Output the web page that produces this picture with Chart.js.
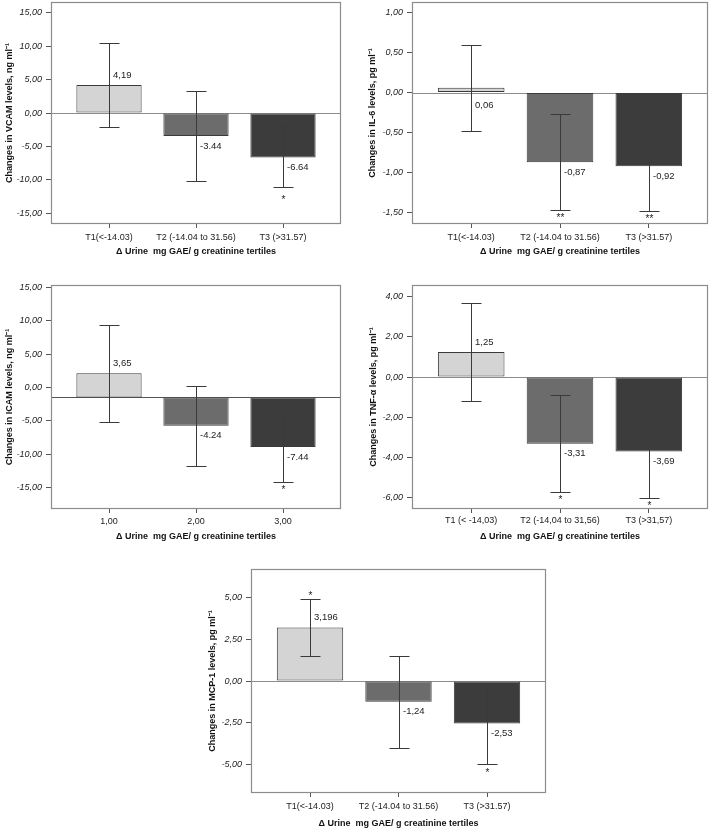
<!DOCTYPE html>
<html>
<head>
<meta charset="utf-8">
<script src="https://cdn.jsdelivr.net/npm/chart.js@4.4.0/dist/chart.umd.min.js"></script>
<style>
  body { margin: 0; background: #fff; }
  #page { position: relative; width: 709px; height: 830px; overflow: hidden; }
  .panel { position: absolute; }
  .panel canvas { display: block; }
</style>
</head>
<body>
<div id="page">
  <div class="panel" id="vcam"><canvas></canvas></div>
  <div class="panel" id="il6"><canvas></canvas></div>
  <div class="panel" id="icam"><canvas></canvas></div>
  <div class="panel" id="tnf"><canvas></canvas></div>
  <div class="panel" id="mcp"><canvas></canvas></div>
</div>
<script>
// ---- data ----
const tertileLabels = ["T1(<-14.03)", "T2 (-14.04 to 31.56)", "T3 (>31.57)"];
const tertileLabelsComma = ["T1 (< -14,03)", "T2 (-14,04 to 31,56)", "T3 (>31,57)"];
const numberLabels = ["1,00", "2,00", "3,00"];
const xTitle = "\u0394 Urine  mg GAE/ g creatinine tertiles";
const barColors = ["#d4d4d4", "#6c6c6c", "#3c3c3c"];

const vcamValues = [4.19, -3.44, -6.64];
const vcamErrLow = [-2.09, -10.15, -11.1];
const vcamErrHigh = [10.5, 3.28, -2.14];
const vcamText = ["4,19", "-3.44", "-6.64"];
const vcamStarsAbove = ["", "", ""];
const vcamStarsBelow = ["", "", "*"];
const vcamTicks = [-15, -10, -5, 0, 5, 10, 15];
const vcamRange = [-16.6, 16.6];

const il6Values = [0.06, -0.87, -0.92];
const il6ErrLow = [-0.475, -1.47, -1.48];
const il6ErrHigh = [0.59, -0.27, -0.37];
const il6Text = ["0,06", "-0,87", "-0,92"];
const il6StarsAbove = ["", "", ""];
const il6StarsBelow = ["", "**", "**"];
const il6Ticks = [-1.5, -1, -0.5, 0, 0.5, 1];
const il6Range = [-1.64, 1.13];

const icamBase = -1.5;
const icamValues = [3.65, -4.24, -7.44];
const icamErrLow = [-5.16, -11.75, -14.25];
const icamErrHigh = [9.45, 0.2, -3.75];
const icamText = ["3,65", "-4.24", "-7.44"];
const icamStarsAbove = ["", "", ""];
const icamStarsBelow = ["", "", "*"];
const icamTicks = [-15, -10, -5, 0, 5, 10, 15];
const icamRange = [-18.25, 15.4];

const tnfValues = [1.25, -3.31, -3.69];
const tnfErrLow = [-1.17, -5.71, -5.99];
const tnfErrHigh = [3.67, -0.87, -1.39];
const tnfText = ["1,25", "-3,31", "-3,69"];
const tnfStarsAbove = ["", "", ""];
const tnfStarsBelow = ["", "*", "*"];
const tnfTicks = [-6, -4, -2, 0, 2, 4];
const tnfRange = [-6.55, 4.57];

const mcpValues = [3.196, -1.24, -2.53];
const mcpErrLow = [1.47, -4.0, -4.96];
const mcpErrHigh = [4.9, 1.5, -0.14];
const mcpText = ["3,196", "-1,24", "-2,53"];
const mcpStarsAbove = ["*", "", ""];
const mcpStarsBelow = ["", "", "*"];
const mcpTicks = [-5, -2.5, 0, 2.5, 5];
const mcpRange = [-6.68, 6.68];

// ---- layout (page pixels) ----
const fontFamily = "'Liberation Sans', Arial, Helvetica, sans-serif";

const panels = [
  {
    id: "vcam", box: { l: 0, t: 0, w: 355, h: 262 }, area: { l: 51, t: 2, r: 341, b: 224 },
    yTitleX: 10, xTickY: 238, xTitleY: 252, starGap: 10, baseColor: "#8c8c8c",
    yTitle: "Changes in VCAM levels, ng ml\u207B\u00B9", categories: tertileLabels, base: 0,
    values: vcamValues, errLow: vcamErrLow, errHigh: vcamErrHigh, text: vcamText,
    starsAbove: vcamStarsAbove, starsBelow: vcamStarsBelow, yTicks: vcamTicks, range: vcamRange
  },
  {
    id: "il6", box: { l: 355, t: 0, w: 354, h: 262 }, area: { l: 412, t: 2, r: 708, b: 224 },
    yTitleX: 373, xTickY: 238, xTitleY: 252, starGap: 5, baseColor: "#8c8c8c",
    yTitle: "Changes in IL-6 levels, pg ml\u207B\u00B9", categories: tertileLabels, base: 0,
    labelSide: [-1, -1, -1],
    values: il6Values, errLow: il6ErrLow, errHigh: il6ErrHigh, text: il6Text,
    starsAbove: il6StarsAbove, starsBelow: il6StarsBelow, yTicks: il6Ticks, range: il6Range
  },
  {
    id: "icam", box: { l: 0, t: 270, w: 355, h: 275 }, area: { l: 51, t: 285, r: 341, b: 509 },
    yTitleX: 9.5, xTickY: 521.5, xTitleY: 537, starGap: 5, baseColor: "#555",
    yTitle: "Changes in ICAM levels, ng ml\u207B\u00B9", categories: numberLabels, base: icamBase,
    values: icamValues, errLow: icamErrLow, errHigh: icamErrHigh, text: icamText,
    starsAbove: icamStarsAbove, starsBelow: icamStarsBelow, yTicks: icamTicks, range: icamRange
  },
  {
    id: "tnf", box: { l: 355, t: 270, w: 354, h: 275 }, area: { l: 412, t: 285, r: 708, b: 509 },
    yTitleX: 373.5, xTickY: 521, xTitleY: 537, starGap: 5, baseColor: "#8c8c8c",
    yTitle: "Changes in TNF-\u03B1 levels, pg ml\u207B\u00B9", categories: tertileLabelsComma, base: 0,
    values: tnfValues, errLow: tnfErrLow, errHigh: tnfErrHigh, text: tnfText,
    starsAbove: tnfStarsAbove, starsBelow: tnfStarsBelow, yTicks: tnfTicks, range: tnfRange
  },
  {
    id: "mcp", box: { l: 195, t: 555, w: 360, h: 275 }, area: { l: 251, t: 569, r: 546, b: 793 },
    yTitleX: 212.5, xTickY: 806.5, xTitleY: 824, starGap: 6, baseColor: "#8c8c8c",
    yTitle: "Changes in MCP-1 levels, pg ml\u207B\u00B9", categories: tertileLabels, base: 0,
    values: mcpValues, errLow: mcpErrLow, errHigh: mcpErrHigh, text: mcpText,
    starsAbove: mcpStarsAbove, starsBelow: mcpStarsBelow, yTicks: mcpTicks, range: mcpRange
  }
];

function tickText(v) {
  return v.toFixed(2).replace(".", ",");
}

// draws the frame, the base line, error bars, value labels and asterisks
function marksPlugin(p) {
  return {
    id: "marks" + p.id,
    beforeDatasetsDraw(chart) {
      const { ctx, chartArea: a, scales: { y } } = chart;
      const yb = Math.round(y.getPixelForValue(p.base)) + 0.5;
      ctx.save();
      ctx.strokeStyle = p.baseColor;
      ctx.lineWidth = 1;
      ctx.beginPath();
      ctx.moveTo(a.left, yb);
      ctx.lineTo(a.right, yb);
      ctx.stroke();
      ctx.restore();
    },
    afterDatasetsDraw(chart) {
      const { ctx, scales: { x, y } } = chart;
      ctx.save();
      ctx.strokeStyle = "#3a3a3a";
      ctx.lineWidth = 1;
      p.values.forEach((v, i) => {
        const xp = Math.round(x.getPixelForValue(i + 1)) + 0.5;
        const yl = Math.round(y.getPixelForValue(p.errLow[i])) + 0.5;
        const yh = Math.round(y.getPixelForValue(p.errHigh[i])) + 0.5;
        ctx.beginPath();
        ctx.moveTo(xp, yl); ctx.lineTo(xp, yh);
        ctx.moveTo(xp - 10, yl); ctx.lineTo(xp + 10, yl);
        ctx.moveTo(xp - 10, yh); ctx.lineTo(xp + 10, yh);
        ctx.stroke();

        // value label
        const dir = p.labelSide ? p.labelSide[i] : (v >= 0 ? 1 : -1);
        const sameSide = (dir > 0) === (v >= 0);
        const anchor = y.getPixelForValue(sameSide ? p.base + v : p.base);
        const ty = sameSide ? anchor - 10 * dir : anchor - 13 * dir;
        ctx.fillStyle = "#222";
        ctx.font = "9.5px " + fontFamily;
        ctx.textAlign = "left";
        ctx.textBaseline = "middle";
        ctx.fillText(p.text[i], xp + 3.5, ty);

        // significance marks
        ctx.font = "10px " + fontFamily;
        ctx.textAlign = "center";
        ctx.textBaseline = "alphabetic";
        if (p.starsBelow[i]) {
          ctx.fillText(p.starsBelow[i], xp, yl + p.starGap + 5.7);
        }
        if (p.starsAbove[i]) {
          ctx.fillText(p.starsAbove[i], xp, yh - p.starGap + 5.7);
        }
      });
      ctx.restore();
    },
    afterDraw(chart) {
      const { ctx, chartArea: a } = chart;
      ctx.save();
      ctx.strokeStyle = "#8c8c8c";
      ctx.lineWidth = 1.2;
      ctx.strokeRect(Math.round(a.left) + 0.5, Math.round(a.top) + 0.5,
        Math.round(a.right - a.left) - 1, Math.round(a.bottom - a.top) - 1);
      ctx.restore();
    }
  };
}

function buildChart(p) {
  const holder = document.getElementById(p.id);
  holder.style.left = p.box.l + "px";
  holder.style.top = p.box.t + "px";
  const canvas = holder.querySelector("canvas");
  canvas.width = p.box.w;
  canvas.height = p.box.h;

  const yAxisWidth = p.area.l - p.box.l;
  const xAxisHeight = p.box.t + p.box.h - p.area.b;
  const half = 5.4; // half line height of 9px text

  new Chart(canvas, {
    type: "bar",
    data: {
      datasets: [{
        data: p.values.map((v, i) => ({ x: i + 1, y: [p.base, p.base + v] })),
        backgroundColor: barColors,
        borderColor: "#3a3a3a",
        borderWidth: 1,
        borderSkipped: false,
        categoryPercentage: 1,
        barPercentage: 0.75
      }]
    },
    options: {
      responsive: false,
      animation: false,
      layout: {
        padding: { left: 0, top: p.area.t - p.box.t, right: p.box.l + p.box.w - p.area.r, bottom: 0 }
      },
      plugins: {
        legend: { display: false },
        tooltip: { enabled: false }
      },
      scales: {
        x: {
          type: "linear",
          min: 1 / 3,
          max: 11 / 3,
          bounds: "data",
          offset: false,
          grid: { offset: false, drawOnChartArea: false, drawTicks: true, tickLength: 4, color: "#555" },
          border: { display: false },
          afterBuildTicks: (s) => { s.ticks = [1, 2, 3].map((v) => ({ value: v })); },
          afterFit: (s) => { s.height = xAxisHeight; s.paddingLeft = 0; s.paddingRight = 0; },
          ticks: {
            autoSkip: false,
            maxRotation: 0,
            padding: p.xTickY - p.area.b - 4 - half,
            color: "#222",
            font: { family: fontFamily, size: 9 },
            callback: (v) => p.categories[Math.round(v) - 1]
          },
          title: {
            display: true,
            text: xTitle,
            color: "#111",
            font: { family: fontFamily, size: 9, weight: "bold" },
            padding: { top: 0, bottom: p.box.t + p.box.h - p.xTitleY - half }
          }
        },
        y: {
          type: "linear",
          min: p.range[0],
          max: p.range[1],
          bounds: "data",
          grid: { drawOnChartArea: false, drawTicks: true, tickLength: 5, color: "#555" },
          border: { display: false },
          afterBuildTicks: (s) => { s.ticks = p.yTicks.map((v) => ({ value: v })); },
          afterFit: (s) => { s.width = yAxisWidth; s.paddingTop = 0; s.paddingBottom = 0; },
          ticks: {
            autoSkip: false,
            padding: 4,
            color: "#222",
            font: { family: fontFamily, size: 9, style: "italic" },
            callback: (v) => tickText(v)
          },
          title: {
            display: true,
            text: p.yTitle,
            color: "#111",
            font: { family: fontFamily, size: 9, weight: "bold" },
            padding: { top: p.yTitleX - p.box.l - half, bottom: 0 }
          }
        }
      }
    },
    plugins: [marksPlugin(p)]
  });
}

panels.forEach(buildChart);
</script>
</body>
</html>
